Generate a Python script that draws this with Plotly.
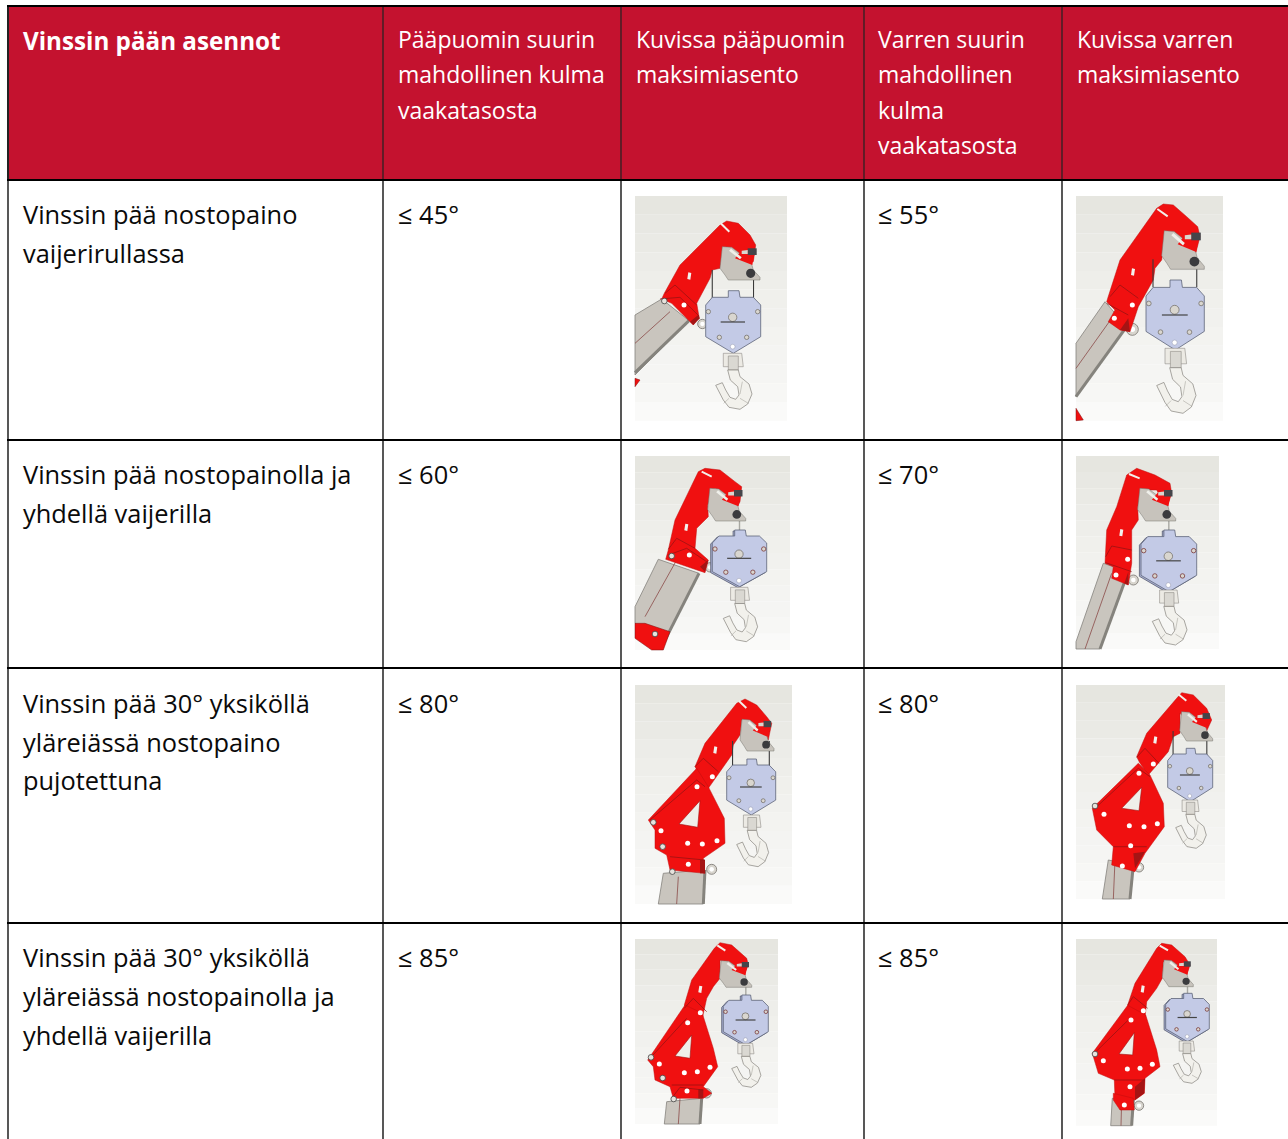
import plotly.graph_objects as go

# ---------- table content ----------
header_title = ["Vinssin pään asennot"]
header_boom_angle = ["Pääpuomin suurin", "mahdollinen kulma", "vaakatasosta"]
header_boom_picture = ["Kuvissa pääpuomin", "maksimiasento"]
header_arm_angle = ["Varren suurin", "mahdollinen", "kulma", "vaakatasosta"]
header_arm_picture = ["Kuvissa varren", "maksimiasento"]

row_labels = [
    ["Vinssin pää nostopaino", "vaijerirullassa"],
    ["Vinssin pää nostopainolla ja", "yhdellä vaijerilla"],
    ["Vinssin pää 30° yksiköllä", "yläreiässä nostopaino", "pujotettuna"],
    ["Vinssin pää 30° yksiköllä", "yläreiässä nostopainolla ja", "yhdellä vaijerilla"],
]
boom_limits = ["≤ 45°", "≤ 60°", "≤ 80°", "≤ 85°"]
arm_limits = ["≤ 55°", "≤ 70°", "≤ 80°", "≤ 85°"]

# ---------- table geometry ----------
W, H = 1288, 1139
COL_X = [8, 383, 621, 864, 1062]
ROW_Y = [6, 180, 440, 668, 923]
TEXT_X = [23, 398, 636, 878, 1077]
HEAD_Y = [39, 74, 110, 145]
TITLE_Y = 40
BODY_Y = [[214, 253], [474, 513], [703, 742, 780], [957, 996, 1035]]
RED = "#C4122F"
INK = "#0A0A0A"
FONT = "Open Sans"
BODY_SIZE = 25.4
HEAD_SIZE = 23
TITLE_SIZE = 24.2

shapes, ann = [], []


def rect(x0, y0, x1, y1, fill, line=None, lw=0):
    shapes.append(dict(type="rect", xref="x", yref="y", x0=x0, y0=y0, x1=x1, y1=y1,
                       fillcolor=fill, line=dict(color=line or fill, width=lw)))


def seg(x0, y0, x1, y1, color, lw):
    shapes.append(dict(type="line", xref="x", yref="y", x0=x0, y0=y0, x1=x1, y1=y1,
                       line=dict(color=color, width=lw)))


def poly(pts, fill, line="rgba(0,0,0,0)", lw=0):
    p = "M" + " L".join(f"{x:.1f},{y:.1f}" for x, y in pts) + " Z"
    shapes.append(dict(type="path", xref="x", yref="y", path=p, fillcolor=fill,
                       line=dict(color=line, width=lw)))


def polyline(pts, color, lw):
    p = "M" + " L".join(f"{x:.1f},{y:.1f}" for x, y in pts)
    shapes.append(dict(type="path", xref="x", yref="y", path=p, line=dict(color=color, width=lw)))


def disc(x, y, r, fill, line="rgba(0,0,0,0)", lw=0):
    shapes.append(dict(type="circle", xref="x", yref="y", x0=x - r, y0=y - r, x1=x + r, y1=y + r,
                       fillcolor=fill, line=dict(color=line, width=lw)))


def text(x, y, s, color=INK, size=BODY_SIZE, bold=False):
    ann.append(dict(x=x, y=y, xref="x", yref="y", text=f"<b>{s}</b>" if bold else s, showarrow=False,
                    xanchor="left", yanchor="middle", align="left", xshift=-2,
                    font=dict(family=FONT, size=size, color=color)))


# ---------- illustration parts, drawn in a 3x working grid ----------
BG_BANDS = ["#E6E6E0", "#E8E8E3", "#EAEAE5", "#ECECE8", "#EEEEEA", "#F0F0EC",
            "#F1F1EE", "#F3F3F0", "#F4F4F2", "#F5F5F3", "#F7F7F5", "#FAFAF9"]
PLATE_BOX = (285, 405, 170, 270)
BLOCK_BOX = (242, 407, 302, 490)
HOOK_BOX = (272, 380, 490, 658)
CRANE_RED = "#F01010"
DARK_RED = "#A51414"
STEEL = "#C9C5BE"
STEEL_DARK = "#85837D"
PLATE = "#C7C3BC"
BLUE = "#C3CAE6"
BLUE_DARK = "#A9B0D2"


def picture(ox, oy, box, tube, tube_line, shade, arm_parts, hole, circles, rings, lug, slot, rect_hole,
            extra_red, dark, details, p_box, b_box, h_box, single):
    def T(x, y):
        return ox + x / 3, oy + y / 3

    def Tp(pts):
        return [T(x, y) for x, y in pts]

    def mapper(src, dst):
        sx = (dst[1] - dst[0]) / (src[1] - src[0])
        sy = (dst[3] - dst[2]) / (src[3] - src[2])
        return lambda x, y: T(dst[0] + (x - src[0]) * sx, dst[2] + (y - src[2]) * sy), sx

    # soft background
    x0, y0 = T(box[0], box[1])
    x1, y1 = T(box[2], box[3])
    n = len(BG_BANDS)
    for i, c in enumerate(BG_BANDS):
        rect(x0, y0 + (y1 - y0) * i / n, x1, y0 + (y1 - y0) * (i + 1) / n, c)

    # tube
    poly(Tp(tube), STEEL, STEEL_DARK, 0.8)
    seg(*T(*tube_line[0]), *T(*tube_line[1]), "#8A4A48", 0.8)
    seg(*T(*shade[0]), *T(*shade[1]), STEEL_DARK, 3)
    for part in extra_red:
        poly(Tp(part), CRANE_RED, "#7A1010", 0.5)
    # lug behind arm
    lx, ly, lr = lug
    disc(*T(lx, ly), lr / 3, "#D8D5CE", "#77746E", 0.8)
    disc(*T(lx, ly), lr / 6.5, "#FFFFFF")
    # arm
    for part in arm_parts:
        poly(Tp(part), CRANE_RED, "#C00F0F", 0.5)
    if hole:
        poly(Tp(hole), "#EFEFEA", "#A01010", 0.6)
    if dark:
        poly(Tp(dark), DARK_RED)
    for d in details:
        polyline(Tp(d), "#8E1212", 0.7)
    # slot and small rect hole
    seg(*T(*slot[0]), *T(*slot[1]), "#F3EFEA", 2)
    rx, ry = rect_hole
    poly(Tp([(rx - 5, ry + 9), (rx + 4, ry + 11), (rx + 7, ry - 9), (rx - 2, ry - 11)]), "#F2F2EE")
    for cx, cy in circles:
        disc(*T(cx, cy), 2.5, "#FFFFFF")
    for cx, cy in rings:
        disc(*T(cx, cy), 2.8, "#E6E3DD", "#444444", 0.8)

    # cables
    bx0, bx1, by0, by1 = b_box
    px0, px1, py0, py1 = p_box
    if single:
        cx = (bx0 + bx1) / 2
        seg(*T(cx, py1 - 6), *T(cx, by0 + 12), "#A8A8A2", 1.4)
    else:
        for cx in (bx0 + 0.12 * (bx1 - bx0), bx0 + 0.87 * (bx1 - bx0)):
            seg(*T(cx, py1 - 30), *T(cx, by0 + 22), "#3A3A3A", 1.1)

    # head plate
    m, _ = mapper(PLATE_BOX, p_box)
    poly([m(x, y) for x, y in [(292, 170), (320, 172), (378, 215), (385, 240), (405, 262), (405, 270),
                               (310, 270), (300, 255), (285, 235)]], PLATE, "#77746E", 0.5)
    poly([m(x, y) for x, y in [(330, 205), (360, 170), (390, 185), (382, 225)]], CRANE_RED)
    poly([m(x, y) for x, y in [(312, 182), (345, 208), (350, 202), (318, 176)]], "#EFEFEA")
    poly([m(x, y) for x, y in [(368, 175), (395, 175), (395, 195), (368, 195)]], "#45454A")
    poly([m(x, y) for x, y in [(350, 182), (368, 180), (368, 192), (350, 192)]], "#D9D6CF")
    cc = m(377, 250)
    disc(cc[0], cc[1], 4.6 * (p_box[1] - p_box[0]) / 120, "#3B3B3E")

    # load block
    m, s = mapper(BLOCK_BOX, b_box)
    outline = [(242, 345), (262, 322), (310, 322), (310, 302), (342, 302), (345, 322), (385, 322),
               (407, 345), (407, 440), (325, 490), (242, 440)]
    if single:
        poly([(m(x, y)[0] - 1.6, m(x, y)[1] + 1) for x, y in outline], BLUE_DARK, "#555A70", 0.8)
    poly([m(x, y) for x, y in outline], BLUE, "#5E6478", 0.8)
    for x, y in [(250, 365), (398, 365), (283, 442), (365, 442)]:
        disc(*m(x, y), 2.2 * s, "#D9D6CF", "#7A3A3A" if single else "#77746E", 0.8)
    disc(*m(323, 470), 2.4 * s, "#FFFFFF", "#9297AC", 0.5)
    disc(*m(323, 382), 4.2 * s, "#D9D6CF", "#77746E", 0.8)
    seg(*m(287, 396), *m(360, 396), "#444444", 1.2)

    # hook
    m, _ = mapper(HOOK_BOX, h_box)
    poly([m(x, y) for x, y in [(295, 490), (350, 490), (355, 530), (295, 530)]], "#ECEAE4", "#8E8C86", 0.6)
    poly([m(x, y) for x, y in [(310, 498), (340, 498), (340, 540), (310, 540)]], "#DAD8D2", "#8E8C86", 0.6)
    poly([m(x, y) for x, y in [(308, 540), (340, 540), (345, 560), (372, 582), (381, 612),
                               (368, 642), (345, 658), (312, 652), (295, 630), (272, 586), (292, 578),
                               (302, 600), (315, 622), (332, 628), (342, 615), (338, 590), (316, 570)]],
         "#F2F1EC", "#85837D", 0.7)
    seg(*m(352, 575), *m(345, 612), "#A9A7A1", 0.6)
    seg(*m(345, 625), *m(370, 640), "#A9A7A1", 0.6)
    seg(*m(312, 625), *m(296, 640), "#A9A7A1", 0.6)


# ---------- table ----------
rect(COL_X[0], ROW_Y[0], W + 2, ROW_Y[1], RED)

pics = [
    dict(ox=625, oy=190, box=(30, 18, 486, 692),
         tube=[(30, 375), (110, 327), (192, 392), (30, 555)], tube_line=((30, 460), (135, 365)),
         shade=((30, 548), (192, 392)),
         arm_parts=[[(118, 310), (165, 225), (285, 105), (305, 93), (340, 100), (375, 135), (392, 165),
                     (385, 215), (300, 180), (285, 235), (262, 240), (255, 265), (215, 340), (222, 380),
                     (205, 405), (190, 390), (140, 340), (110, 327)]],
         hole=None, circles=[(177, 345)], rings=[(118, 333)], lug=(232, 402, 14),
         slot=((287, 100), (313, 125)), rect_hole=(192, 258),
         extra_red=[[(30, 565), (45, 570), (30, 590)]],
         dark=[(195, 395), (220, 375), (225, 385), (205, 405)],
         details=[[(120, 310), (150, 285), (215, 345)], [(105, 327), (165, 322), (222, 378)]],
         p_box=(285, 405, 170, 270), b_box=(242, 407, 302, 490), h_box=(272, 380, 490, 658), single=False),
    dict(ox=1065, oy=190, box=(33, 18, 474, 692),
         tube=[(33, 460), (120, 335), (185, 410), (33, 620)], tube_line=((33, 535), (140, 385)),
         shade=((33, 620), (185, 410)),
         arm_parts=[[(128, 325), (165, 210), (275, 55), (295, 42), (325, 45), (365, 80), (398, 110), (405, 140),
                     (392, 190), (300, 130), (290, 210), (270, 235), (265, 270), (220, 350), (195, 425),
                     (165, 420), (130, 395), (150, 360), (125, 335)]],
         hole=None, circles=[(202, 345), (148, 385)], rings=[], lug=(202, 418, 18),
         slot=((277, 57), (308, 79)), rect_hole=(203, 246),
         extra_red=[[(33, 655), (55, 690), (33, 692)]],
         dark=[(165, 420), (190, 385), (195, 425)],
         details=[[(135, 320), (165, 285), (220, 325)], [(125, 340), (190, 375)]],
         p_box=(290, 418, 122, 238), b_box=(243, 418, 270, 480), h_box=(275, 392, 475, 670), single=False),
    dict(ox=625, oy=450, box=(30, 18, 495, 600),
         tube=[(30, 470), (100, 328), (222, 370), (115, 580), (30, 520)], tube_line=((60, 500), (155, 330)),
         shade=((115, 580), (222, 370)),
         arm_parts=[[(130, 300), (150, 210), (220, 65), (240, 55), (285, 60), (330, 95), (350, 110), (345, 155),
                     (335, 175), (270, 115), (248, 165), (250, 200), (215, 235), (210, 295), (250, 330),
                     (240, 368), (122, 328)]],
         hole=None, circles=[(193, 315)], rings=[(140, 318), (90, 552)], lug=(255, 352, 14),
         slot=((230, 65), (260, 80)), rect_hole=(183, 232),
         extra_red=[[(30, 520), (60, 520), (135, 545), (115, 600), (80, 600), (30, 565)]],
         dark=[(225, 350), (250, 330), (240, 365)],
         details=[[(130, 298), (155, 265), (210, 295)], [(130, 315), (185, 295), (245, 335)]],
         p_box=(248, 362, 115, 213), b_box=(262, 425, 240, 410), h_box=(295, 397, 412, 575), single=True),
    dict(ox=1065, oy=450, box=(33, 18, 462, 597),
         tube=[(115, 340), (190, 365), (105, 597), (33, 597), (33, 575)], tube_line=((60, 597), (140, 370)),
         shade=((105, 597), (190, 365)),
         arm_parts=[[(120, 340), (125, 240), (155, 170), (185, 75), (215, 55), (270, 75), (315, 100), (320, 130),
                     (305, 175), (275, 120), (230, 120), (218, 170), (220, 210), (200, 240), (200, 340),
                     (190, 405), (140, 385), (145, 350)]],
         hole=None, circles=[(188, 328), (153, 375)], rings=[], lug=(205, 390, 15),
         slot=((192, 72), (224, 85)), rect_hole=(168, 248), extra_red=[],
         dark=[(178, 400), (190, 365), (190, 405)],
         details=[[(122, 320), (140, 288), (200, 300)], [(122, 338), (200, 365)]],
         p_box=(218, 332, 115, 213), b_box=(228, 395, 240, 425), h_box=(262, 365, 420, 585), single=True),
    dict(ox=625, oy=680, box=(30, 15, 501, 672),
         tube=[(100, 672), (115, 580), (240, 570), (235, 672)], tube_line=((160, 590), (155, 672)),
         shade=((235, 672), (240, 570)),
         arm_parts=[[(210, 260), (240, 190), (335, 70), (360, 57), (395, 75), (425, 110), (440, 130), (430, 180),
                     (350, 120), (345, 165), (325, 195), (320, 225), (250, 325), (225, 285)],
                    [(70, 420), (215, 265), (250, 320), (298, 415), (300, 490), (235, 535), (240, 580), (135, 570),
                     (125, 525), (90, 505), (90, 450)]],
         hole=[(225, 362), (218, 442), (162, 432)],
         circles=[(262, 290), (216, 320), (108, 452), (188, 490), (232, 492), (276, 482), (190, 553)],
         rings=[(113, 500), (142, 575), (85, 427)], lug=(260, 568, 15),
         slot=((342, 63), (364, 84)), rect_hole=(270, 210), extra_red=[],
         dark=[(225, 540), (240, 540), (240, 580), (225, 580)],
         details=[[(210, 260), (235, 235), (280, 275)], [(75, 420), (215, 300), (240, 320)], [(135, 530), (240, 540)]],
         p_box=(345, 447, 118, 213), b_box=(305, 452, 237, 405), h_box=(335, 430, 405, 560), single=False),
    dict(ox=1065, oy=680, box=(33, 15, 480, 657),
         tube=[(112, 657), (130, 540), (205, 555), (195, 657)], tube_line=((150, 540), (145, 657)),
         shade=((195, 657), (205, 555)),
         arm_parts=[[(215, 230), (245, 160), (335, 55), (350, 38), (385, 45), (425, 85), (440, 120), (415, 175),
                     (345, 100), (345, 160), (325, 170), (310, 215), (250, 285), (225, 250)],
                    [(82, 385), (220, 250), (255, 285), (295, 370), (298, 440), (240, 520), (210, 575), (140, 555),
                     (145, 500), (95, 450)]],
         hole=[(230, 322), (222, 392), (170, 385)],
         circles=[(265, 252), (222, 280), (117, 403), (193, 437), (237, 440), (277, 431), (197, 497), (172, 558)],
         rings=[(90, 378)], lug=(222, 562, 14),
         slot=((340, 43), (364, 62)), rect_hole=(270, 180), extra_red=[],
         dark=[(205, 520), (240, 515), (210, 565)],
         details=[[(215, 232), (240, 205), (282, 250)], [(90, 385), (220, 265), (255, 290)], [(145, 500), (245, 500)]],
         p_box=(344, 443, 95, 183), b_box=(308, 443, 205, 365), h_box=(332, 423, 360, 505), single=False),
    dict(ox=625, oy=930, box=(30, 27, 459, 582),
         tube=[(118, 582), (125, 515), (230, 505), (225, 582)], tube_line=((165, 505), (160, 582)),
         shade=((225, 582), (230, 505)),
         arm_parts=[[(178, 225), (200, 150), (268, 55), (285, 38), (320, 45), (365, 85), (370, 105), (355, 140),
                     (285, 90), (285, 145), (265, 170), (245, 205), (232, 265), (185, 240)],
                    [(68, 390), (180, 225), (232, 250), (265, 355), (278, 410), (235, 470), (260, 490), (235, 505),
                     (145, 505), (135, 470), (90, 450), (85, 410)]],
         hole=[(200, 315), (195, 385), (150, 378)],
         circles=[(226, 248), (188, 278), (103, 402), (178, 428), (217, 425), (255, 412), (186, 483)],
         rings=[(146, 507), (113, 444), (78, 382)], lug=(245, 490, 14),
         slot=((277, 46), (301, 62)), rect_hole=(225, 178), extra_red=[],
         dark=[(220, 478), (235, 478), (235, 505), (220, 505)],
         details=[[(178, 235), (205, 205), (245, 245)], [(75, 385), (185, 265)], [(140, 465), (235, 465)],
                  [(140, 505), (165, 472), (235, 480)]],
         p_box=(283, 380, 92, 172), b_box=(295, 430, 195, 345), h_box=(320, 407, 340, 472), single=True),
    dict(ox=1065, oy=930, box=(33, 27, 456, 587),
         tube=[(137, 587), (142, 505), (205, 510), (200, 587)], tube_line=((170, 510), (168, 587)),
         shade=((200, 587), (205, 510)),
         arm_parts=[[(188, 225), (210, 160), (275, 55), (290, 40), (320, 45), (360, 80), (375, 105), (365, 135),
                     (295, 95), (292, 145), (275, 175), (245, 215), (240, 262), (190, 238)],
                    [(82, 370), (188, 226), (242, 255), (275, 360), (285, 410), (240, 445), (238, 490), (210, 510),
                     (150, 505), (148, 450), (100, 430)],
                    [(145, 490), (205, 505), (208, 540), (165, 540), (145, 510)]],
         hole=[(208, 308), (203, 375), (162, 372)],
         circles=[(235, 242), (198, 270), (115, 392), (187, 417), (225, 415), (262, 403), (195, 470), (178, 525)],
         rings=[(90, 372)], lug=(222, 527, 14),
         slot=((284, 47), (309, 61)), rect_hole=(232, 177), extra_red=[],
         dark=[(210, 470), (240, 445), (238, 490), (210, 510)],
         details=[[(188, 225), (205, 200), (248, 235)], [(88, 370), (195, 265)], [(148, 450), (240, 450)]],
         p_box=(292, 385, 90, 170), b_box=(302, 433, 190, 335), h_box=(325, 408, 333, 460), single=True),
]
for p in pics:
    picture(**p)

# grid lines
for i, x in enumerate(COL_X):
    seg(x, ROW_Y[0], x, ROW_Y[1], "#222222", 2 if i == 0 else 1.2)
    seg(x, ROW_Y[1], x, H, "#111111", 1.4)
for y in ROW_Y:
    seg(COL_X[0] - 1, y, W + 2, y, "#000000", 2)

# ---------- text ----------
text(TEXT_X[0], TITLE_Y, header_title[0], "#FFFFFF", TITLE_SIZE, bold=True)
for col, lines in zip(TEXT_X[1:], [header_boom_angle, header_boom_picture, header_arm_angle, header_arm_picture]):
    for y, s in zip(HEAD_Y, lines):
        text(col, y, s, "#FFFFFF", HEAD_SIZE)
for i, lines in enumerate(row_labels):
    for y, s in zip(BODY_Y[i], lines):
        text(TEXT_X[0], y, s)
    text(TEXT_X[1], BODY_Y[i][0], boom_limits[i])
    text(TEXT_X[3], BODY_Y[i][0], arm_limits[i])

fig = go.Figure()
fig.add_trace(go.Scatter(x=[0], y=[0], mode="markers", marker=dict(opacity=0), hoverinfo="skip", showlegend=False))
fig.update_layout(width=W, height=H, margin=dict(l=0, r=0, t=0, b=0), paper_bgcolor="#FFFFFF",
                  plot_bgcolor="#FFFFFF", showlegend=False, shapes=shapes, annotations=ann,
                  xaxis=dict(range=[0, W], visible=False, fixedrange=True),
                  yaxis=dict(range=[H, 0], visible=False, fixedrange=True))
fig.write_html("out.html", config=dict(displayModeBar=False),
               post_script="document.body.style.margin='0';document.body.style.overflow='hidden';")
